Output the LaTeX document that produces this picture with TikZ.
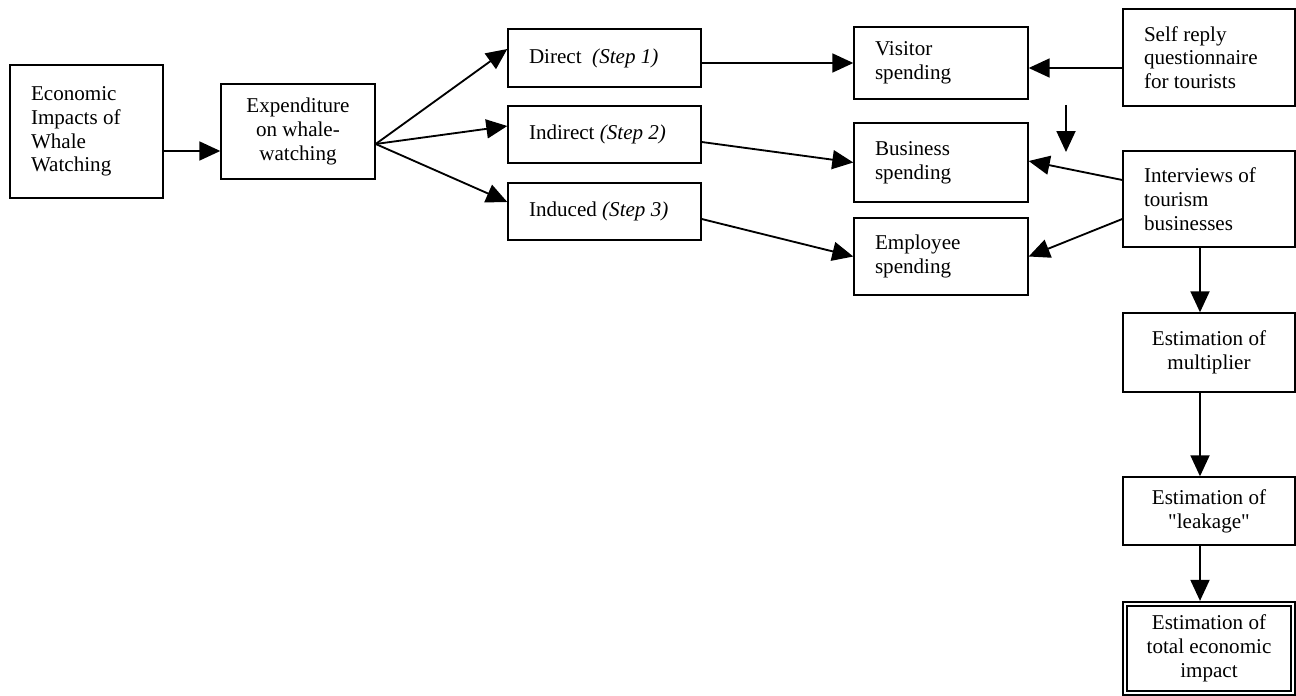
\documentclass[tikz,border=0pt]{standalone}
\usepackage{fontspec}
\setmainfont{Liberation Serif}
\usepackage{tikz}
\usetikzlibrary{arrows.meta, positioning}

\tikzset{
  caja/.style={draw, line width=0.8pt, inner ysep=0pt, inner xsep=0.42cm,
    font=\fontsize{12}{13.5}\selectfont},
  cajaizq/.style={caja, align=flush left, text width=#1},
  cajacentro/.style={caja, align=center},
  flecha/.style={-{Triangle[length=0.42cm,width=0.38cm]}, line width=1.05pt}
}

\begin{document}
\begin{tikzpicture}[x=0.02cm, y=-0.02cm]
            \useasboundingbox (0,0) rectangle (1296,696);

            % Cajas de la izquierda
            \node[cajaizq=2.22cm, minimum height=2.66cm] (econ) at (86.5,131.5) {Economic\\Impacts of\\Whale\\Watching};
            \node[cajacentro, minimum width=3.08cm, minimum height=1.9cm] (exp) at (298,131.5) {Expenditure\\on whale-\\watching};

            % Pasos
            \node[cajaizq=3.02cm, minimum height=1.16cm] (dir) at (604.5,58) {Direct\ \ \textit{(Step 1)}};
            \node[cajaizq=3.02cm, minimum height=1.14cm] (ind) at (604.5,134.5) {Indirect \textit{(Step 2)}};
            \node[cajaizq=3.02cm, minimum height=1.14cm] (idu) at (604.5,211.5) {Induced \textit{(Step 3)}};

            % Gastos
            \node[cajaizq=2.64cm, minimum height=1.44cm] (vis) at (941,63) {Visitor\\spending};
            \node[cajaizq=2.64cm, minimum height=1.58cm] (bus) at (941,162.5) {Business\\spending};
            \node[cajaizq=2.64cm, minimum height=1.54cm] (emp) at (941,256.5) {Employee\\spending};

            % Fuentes de datos y estimaciones
            \node[cajaizq=2.6cm, minimum height=1.94cm] (self) at (1209,57.5) {Self reply\\questionnaire\\for tourists};
            \node[cajaizq=2.6cm, minimum height=1.92cm] (intv) at (1209,199) {Interviews of\\tourism\\businesses};
            \node[cajacentro, minimum width=3.44cm, minimum height=1.58cm] (mult) at (1209,352.5) {Estimation of\\multiplier};
            \node[cajacentro, minimum width=3.44cm, minimum height=1.36cm] (leak) at (1209,511) {Estimation of\\\textquotedbl leakage\textquotedbl};
            \node[cajacentro, double, double distance=1.55pt, line width=0.7pt,
              minimum width=3.36cm, minimum height=1.78cm] (tot) at (1209,648.5) {Estimation of\\total economic\\impact};

            % Flechas
            \draw[flecha] ([yshift=-0.39cm]econ.east) -- ([yshift=-0.39cm]exp.west);
            \coordinate (fan) at ([yshift=-0.25cm]exp.east);
            \draw[flecha] (fan) -- ([yshift=0.18cm]dir.west);
            \draw[flecha] (fan) -- ([yshift=0.17cm]ind.west);
            \draw[flecha] (fan) -- ([yshift=0.19cm]idu.west);

            \draw[flecha] (dir.east |- vis.west) -- (vis.west);
            \draw[flecha] ([yshift=-0.15cm]ind.east) -- (bus.west);
            \draw[flecha] ([yshift=-0.15cm]idu.east) -- (emp.west);

            \draw[flecha] ([yshift=-0.21cm]self.west) -- ([yshift=-0.21cm]self.west -| vis.east);
            \coordinate (libreA) at (1066,105);
            \coordinate (libreB) at (1066,152);
            \draw[flecha] (libreA) -- (libreB);
            \draw[flecha] ([yshift=0.38cm]intv.west) -- ([yshift=0.03cm]bus.east);
            \draw[flecha] ([yshift=-0.4cm]intv.west) -- (emp.east);

            \draw[flecha] ([xshift=-0.18cm]intv.south) -- ([xshift=-0.18cm]mult.north);
            \draw[flecha] ([xshift=-0.18cm]mult.south) -- ([xshift=-0.18cm]leak.north);
            \draw[flecha] ([xshift=-0.18cm]leak.south) -- ([xshift=-0.18cm,yshift=0.05cm]tot.north);
        \end{tikzpicture}
\end{document}
